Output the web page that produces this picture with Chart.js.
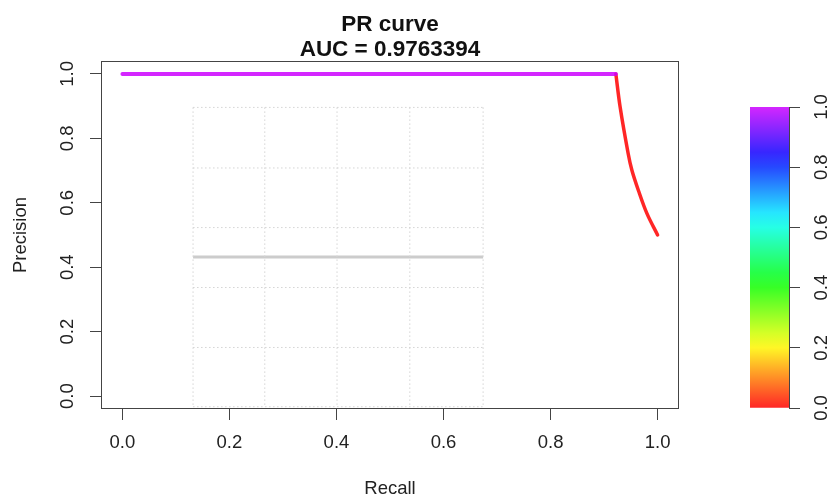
<!DOCTYPE html>
<html>
<head>
<meta charset="utf-8">
<title>PR curve</title>
<script src="https://cdn.jsdelivr.net/npm/chart.js@4"></script>
<style>
  html, body { margin: 0; padding: 0; background: #fff; }
  #wrap { position: relative; width: 831px; height: 500px; }
  #wrap canvas { position: absolute; left: 0; top: 0; }
</style>
</head>
<body>
<div id="wrap">
  <canvas id="prChart" width="831" height="500"></canvas>
  <canvas id="scaleChart" width="831" height="500"></canvas>
</div>
<script>
// curve: flat part at precision 1, then the drop to the last point
const flatRecall = [0, 0.922];
const flatPrecision = [1, 1];
const dropRecall = [0.922, 0.930, 0.945, 0.952, 0.964, 0.980, 1.0];
const dropPrecision = [1, 0.897, 0.753, 0.701, 0.639, 0.567, 0.5];
// classifier score of each part, used for the colour
const flatScore = 1.0;
const dropScore = 0.0;

// grey reference line and the dotted grid block behind it
const baseRecall = [0.132, 0.674];
const basePrecision = [0.432, 0.432];
const gridRecall = [0.132, 0.266, 0.401, 0.537, 0.674];
const gridPrecision = [0.896, 0.708, 0.523, 0.337, 0.151, -0.033];

const axisTicks = [0, 0.2, 0.4, 0.6, 0.8, 1.0];
const scaleTicks = [0, 0.2, 0.4, 0.6, 0.8, 1.0];
const scaleRange = [0, 1];

const titleLines = ['PR curve', 'AUC = 0.9763394'];
const xTitle = 'Recall';
const yTitle = 'Precision';

const FONT = '"Liberation Sans", Arial, Helvetica, sans-serif';
Chart.defaults.font.family = FONT;
Chart.defaults.color = '#222';

// rainbow from red (0) to purple (1), slightly washed out
function scoreColor(v) {
  return 'hsla(' + (288 * v) + ', 100%, 50%, 0.85)';
}

function pts(xs, ys) {
  return xs.map((x, i) => ({ x: x, y: ys[i] }));
}

function gridData() {
  const out = [];
  const y0 = gridPrecision[0], y1 = gridPrecision[gridPrecision.length - 1];
  const x0 = gridRecall[0], x1 = gridRecall[gridRecall.length - 1];
  gridRecall.forEach(gx => {
    out.push({ x: gx, y: y0 }, { x: gx, y: y1 }, { x: gx, y: null });
  });
  gridPrecision.forEach(gy => {
    out.push({ x: x0, y: gy }, { x: x1, y: gy }, { x: x1, y: null });
  });
  return out;
}

// y tick labels in R style: turned to read bottom-up
const rotatedYLabels = {
  id: 'rotatedYLabels',
  afterDraw(chart, args, opts) {
    const scale = chart.scales.y;
    const c = chart.ctx;
    c.save();
    c.font = '18.5px ' + FONT;
    c.fillStyle = '#222';
    c.textAlign = 'center';
    c.textBaseline = 'middle';
    scale.ticks.forEach(t => {
      c.save();
      c.translate(opts.x, scale.getPixelForValue(t.value));
      c.rotate(-Math.PI / 2);
      c.fillText(t.value.toFixed(1), 0, 0);
      c.restore();
    });
    c.restore();
  }
};

const plotBox = {
  id: 'plotBox',
  afterDraw(chart) {
    const a = chart.chartArea;
    const c = chart.ctx;
    c.save();
    c.strokeStyle = '#444';
    c.lineWidth = 1;
    c.strokeRect(Math.round(a.left) + 0.5, Math.round(a.top) + 0.5,
      Math.round(a.right - a.left) - 1, Math.round(a.bottom - a.top) - 1);
    c.restore();
  }
};

const titleText = {
  id: 'titleText',
  afterDraw(chart) {
    const a = chart.chartArea;
    const c = chart.ctx;
    const cx = (a.left + a.right) / 2;
    c.save();
    c.font = 'bold 22.5px ' + FONT;
    c.fillStyle = '#111';
    c.textAlign = 'center';
    c.textBaseline = 'middle';
    c.fillText(titleLines[0], cx, 25);
    c.fillText(titleLines[1], cx, 50);
    c.restore();
  }
};

function fixedTicks(values) {
  return function (scale) {
    scale.ticks = values.map(v => ({ value: v }));
  };
}

new Chart(document.getElementById('prChart'), {
  type: 'scatter',
  data: {
    datasets: [
      {
        data: gridData(),
        showLine: true,
        spanGaps: false,
        borderColor: '#d4d4d4',
        borderWidth: 1,
        borderDash: [1.5, 2.5],
        pointRadius: 0
      },
      {
        data: pts(baseRecall, basePrecision),
        showLine: true,
        borderColor: '#cccccc',
        borderWidth: 3,
        pointRadius: 0
      },
      {
        data: pts(flatRecall, flatPrecision),
        showLine: true,
        borderColor: scoreColor(flatScore),
        borderWidth: 4,
        borderCapStyle: 'round',
        pointRadius: 0
      },
      {
        data: pts(dropRecall, dropPrecision),
        showLine: true,
        tension: 0.35,
        borderColor: scoreColor(dropScore),
        borderWidth: 3.5,
        borderCapStyle: 'round',
        borderJoinStyle: 'round',
        pointRadius: 0
      }
    ]
  },
  options: {
    responsive: false,
    animation: false,
    layout: { padding: { left: 0, right: 152, top: 61, bottom: 0 } },
    plugins: {
      legend: { display: false },
      tooltip: { enabled: false },
      rotatedYLabels: { x: 67.5 }
    },
    scales: {
      x: {
        type: 'linear',
        min: -0.04,
        max: 1.04,
        afterBuildTicks: fixedTicks(axisTicks),
        afterFit: s => { s.height = 91; },
        border: { display: false },
        grid: { drawOnChartArea: false, drawTicks: true, tickLength: 11, color: '#444' },
        ticks: {
          font: { size: 18.5 },
          color: '#222',
          padding: 12,
          maxRotation: 0,
          autoSkip: false,
          callback: v => v.toFixed(1)
        },
        title: { display: true, text: xTitle, font: { size: 18.5 }, color: '#222', padding: { top: 0, bottom: 0 } }
      },
      y: {
        type: 'linear',
        min: -0.04,
        max: 1.04,
        afterBuildTicks: fixedTicks(axisTicks),
        afterFit: s => { s.width = 101; },
        border: { display: false },
        grid: { drawOnChartArea: false, drawTicks: true, tickLength: 11, color: '#444' },
        ticks: { display: false },
        title: { display: true, text: yTitle, font: { size: 18.5 }, color: '#222', padding: { top: 10, bottom: 0 } }
      }
    }
  },
  plugins: [rotatedYLabels, plotBox, titleText]
});

// colour key on the right
new Chart(document.getElementById('scaleChart'), {
  type: 'bar',
  data: {
    labels: [''],
    datasets: [{
      data: [scaleRange],
      barPercentage: 1,
      categoryPercentage: 1,
      borderWidth: 0,
      backgroundColor: ctx => {
        const chart = ctx.chart;
        if (!chart.chartArea) return null;
        const y = chart.scales.y;
        const g = chart.ctx.createLinearGradient(0, y.getPixelForValue(0), 0, y.getPixelForValue(1));
        for (let i = 0; i <= 20; i++) {
          g.addColorStop(i / 20, scoreColor(i / 20));
        }
        return g;
      }
    }]
  },
  options: {
    responsive: false,
    animation: false,
    layout: { padding: { left: 750, right: 0, top: 107, bottom: 92 } },
    plugins: {
      legend: { display: false },
      tooltip: { enabled: false },
      rotatedYLabels: { x: 822 }
    },
    scales: {
      x: { display: false },
      y: {
        position: 'right',
        min: 0,
        max: 1,
        afterBuildTicks: fixedTicks(scaleTicks),
        afterFit: s => { s.width = 42; },
        border: { display: true, color: '#444', width: 1 },
        grid: { drawOnChartArea: false, drawTicks: true, tickLength: 11, color: '#444' },
        ticks: { display: false }
      }
    }
  },
  plugins: [rotatedYLabels]
});
</script>
</body>
</html>
